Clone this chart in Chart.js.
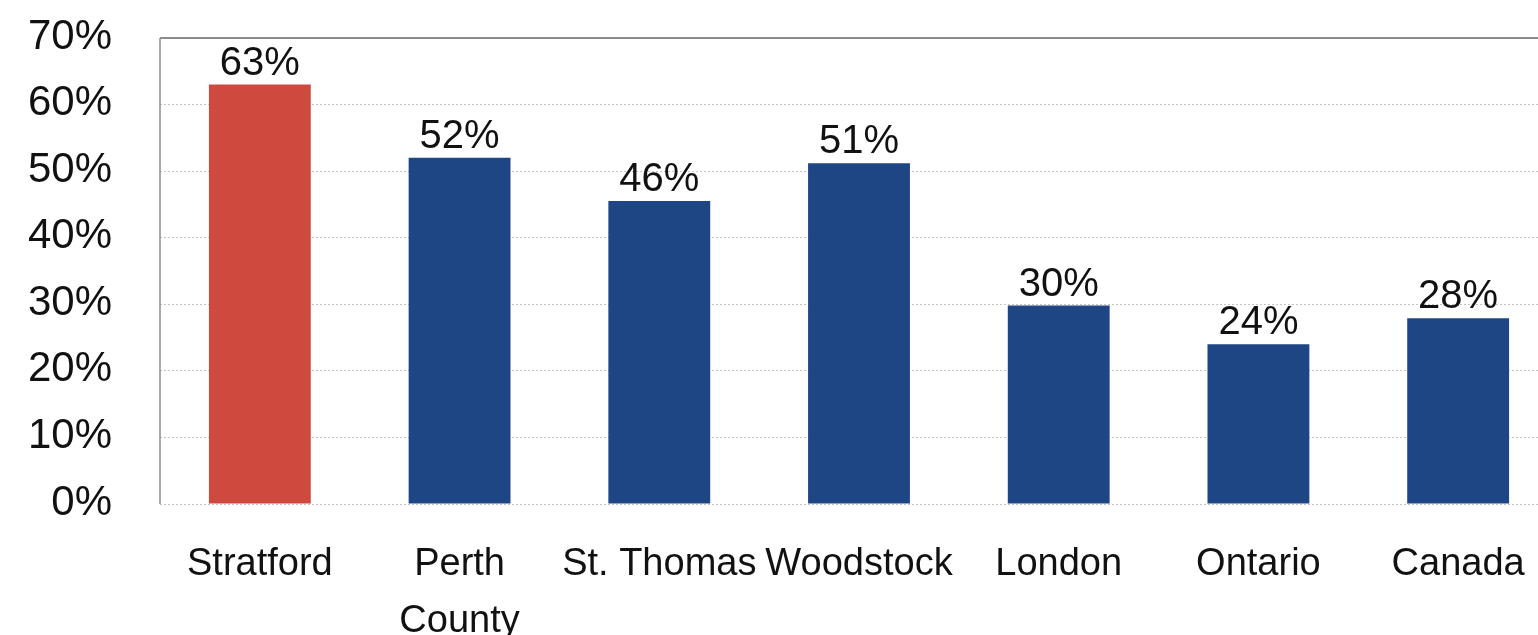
<!DOCTYPE html>
<html>
<head>
<meta charset="utf-8">
<script src="https://cdn.jsdelivr.net/npm/chart.js@4"></script>
<style>
  html, body { margin: 0; padding: 0; background: #fff; overflow: hidden; }
  #wrap { width: 1558px; height: 635px; }
</style>
</head>
<body>
<div id="wrap"><canvas id="chart"></canvas></div>
<script>
const places = ['Stratford', ['Perth', 'County'], 'St. Thomas', 'Woodstock', 'London', 'Ontario', 'Canada'];
const shares = [63, 52, 45.5, 51.2, 29.8, 24, 27.9];
const barColors = ['#CF4A3E', '#1E4584', '#1E4584', '#1E4584', '#1E4584', '#1E4584', '#1E4584'];
const yTicks = [0, 10, 20, 30, 40, 50, 60, 70];

const FONT = '"Liberation Sans", Helvetica, Arial, sans-serif';

// value labels above the bars + solid frame lines (top and left)
const extras = {
  id: 'extras',
  afterDatasetsDraw(chart) {
    const ctx = chart.ctx;
    const area = chart.chartArea;
    ctx.save();
    ctx.strokeStyle = '#8c8c8c';
    ctx.lineWidth = 2;
    ctx.beginPath();
    ctx.moveTo(area.left, area.top);
    ctx.lineTo(area.right, area.top);
    ctx.stroke();
    ctx.lineWidth = 1.5;
    ctx.beginPath();
    ctx.moveTo(area.left, area.top);
    ctx.lineTo(area.left, area.bottom);
    ctx.stroke();

    ctx.fillStyle = '#111';
    ctx.font = '40px ' + FONT;
    ctx.textAlign = 'center';
    ctx.textBaseline = 'bottom';
    const meta = chart.getDatasetMeta(0);
    meta.data.forEach((bar, i) => {
      ctx.fillText(Math.round(shares[i]) + '%', bar.x, bar.y - 1);
    });
    ctx.restore();
  }
};

new Chart(document.getElementById('chart'), {
  type: 'bar',
  data: {
    labels: places,
    datasets: [{
      data: shares,
      backgroundColor: barColors,
      borderWidth: 0,
      categoryPercentage: 1,
      barPercentage: 0.51
    }]
  },
  options: {
    responsive: true,
    maintainAspectRatio: false,
    animation: false,
    layout: { padding: { top: 38, right: 0, left: 0, bottom: 0 } },
    plugins: {
      legend: { display: false },
      tooltip: { enabled: false }
    },
    scales: {
      x: {
        grid: { display: false },
        border: { display: false },
        ticks: {
          color: '#111',
          font: { family: FONT, size: 38, lineHeight: 1.5 },
          padding: 24,
          maxRotation: 0,
          autoSkip: false
        },
        afterFit(scale) { scale.height = 131; }
      },
      y: {
        min: 0,
        max: 70,
        afterBuildTicks(scale) { scale.ticks = yTicks.map(v => ({ value: v })); },
        grid: { color: '#c4c4c4', lineWidth: 1, drawTicks: false },
        border: { display: false, dash: [2, 2] },
        ticks: {
          color: '#111',
          font: { family: FONT, size: 42 },
          padding: 48,
          labelOffset: -1,
          callback: v => v + '%'
        },
        afterFit(scale) {
          scale.width = 160;
          scale.paddingTop = 20;
          scale.paddingBottom = 20;
        }
      }
    }
  },
  plugins: [extras]
});
</script>
</body>
</html>
